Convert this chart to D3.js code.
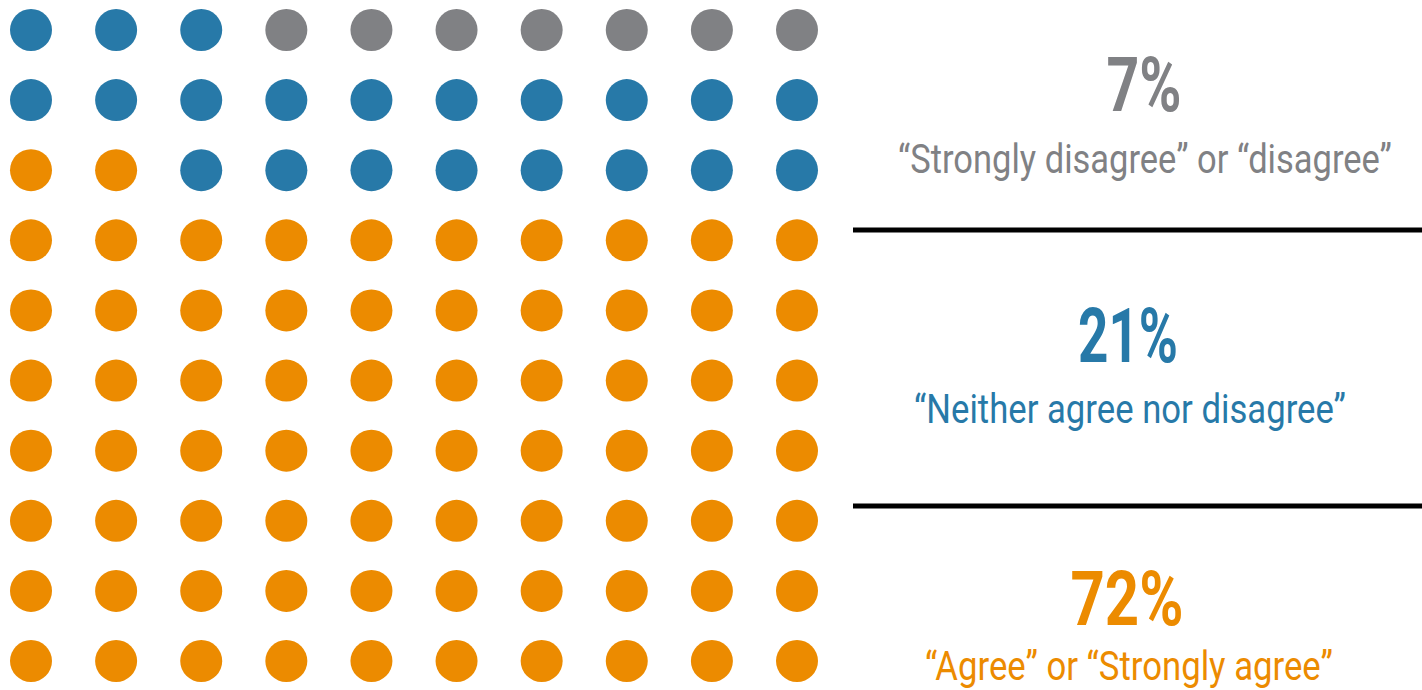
<!DOCTYPE html>
<html>
<head>
<meta charset="utf-8">
<script src="https://cdn.jsdelivr.net/npm/d3@7"></script>
<style>
  body { margin: 0; background: #fff; }
  svg { display: block; }
</style>
</head>
<body>
<script>
const w = 1422; // width
const h = 690;  // height

// data: share of 100 respondents, fill starts bottom-left
const categories = ["agree", "neither", "disagree"];
const percents = [72, 21, 7];
const labels = [
    "\u201CAgree\u201D or \u201CStrongly agree\u201D",
    "\u201CNeither agree nor disagree\u201D",
    "\u201CStrongly disagree\u201D or \u201Cdisagree\u201D"
];
const colors = ["#ec8b00", "#2779a8", "#808184"];

// one dot per percent
let dots = [];
categories.forEach((c, k) => {
    for (let j = 0; j < percents[k]; j++) dots.push({ cat: c, k: k });
});
dots.forEach((d, i) => { d.col = i % 10; d.row = Math.floor(i / 10); });

let svg = d3.select("body")
    .append("svg")
    .attr("width", w)
    .attr("height", h);

// scales
let x = d3.scaleLinear().domain([0, 9]).range([31, 797]);
let y = d3.scaleLinear().domain([0, 9]).range([661, 30]); // row 0 = bottom

svg.selectAll("circle")
    .data(dots)
    .enter()
    .append("circle")
    .attr("cx", d => x(d.col))
    .attr("cy", d => y(d.row))
    .attr("r", 21)
    .attr("fill", d => colors[d.k]);

// right-hand legend, top block = last category
const blocks = [
    { k: 2, cx: 1144, numY: 111, numW: 75, labCx: 1145, labY: 173, labW: 494 },
    { k: 1, cx: 1128, numY: 362, numW: 100, labCx: 1130, labY: 423, labW: 432 },
    { k: 0, cx: 1127, numY: 625, numW: 113, labCx: 1129, labY: 680, labW: 408 }
];

let g = svg.append("g").attr("font-family", "Roboto, 'Liberation Sans', sans-serif");

// text squeezed horizontally to a target width (condensed look)
function narrowText(cx, cy, width, size, weight, color, str) {
    let t = g.append("g")
        .attr("transform", `translate(${cx},${cy})`)
        .append("text")
        .attr("text-anchor", "middle")
        .attr("font-size", size)
        .attr("font-weight", weight)
        .attr("fill", color)
        .text(str);
    let natural = t.node().getComputedTextLength();
    t.attr("transform", `scale(${width / natural},1)`);
}

blocks.forEach(b => {
    narrowText(b.cx, b.numY, b.numW, 76, "bold", colors[b.k], percents[b.k] + "%");
    narrowText(b.labCx, b.labY, b.labW, 41, "normal", colors[b.k], labels[b.k]);
});

// separators
svg.selectAll("line.sep")
    .data([230, 506])
    .enter()
    .append("line")
    .attr("class", "sep")
    .attr("x1", 853)
    .attr("x2", w)
    .attr("y1", d => d)
    .attr("y2", d => d)
    .attr("stroke", "#000")
    .attr("stroke-width", 5);
</script>
</body>
</html>
